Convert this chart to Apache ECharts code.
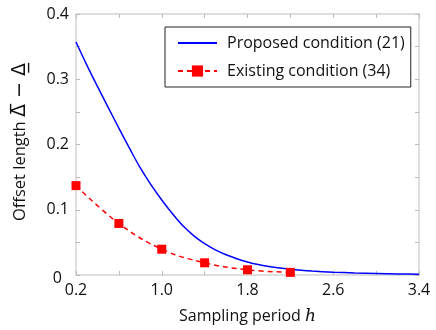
<!DOCTYPE html>
<html>
<head>
<meta charset="utf-8">
<script src="https://cdn.jsdelivr.net/npm/echarts@6/dist/echarts.min.js"></script>
<style>
  html, body { margin: 0; padding: 0; background: #fff; }
  #chart { width: 436px; height: 330px; }
</style>
</head>
<body>
<div id="chart"></div>
<script>
// sampling period h and offset length values
const proposedH = [0.2, 0.3, 0.4, 0.5, 0.6, 0.7, 0.8, 0.9, 1.0, 1.1, 1.2, 1.3, 1.4, 1.5, 1.6, 1.7, 1.8, 1.9, 2.0, 2.1, 2.2, 2.3, 2.4, 2.6, 2.8, 3.0, 3.2, 3.4]
const proposedVal = [0.357, 0.322, 0.289, 0.257, 0.225, 0.194, 0.164, 0.138, 0.115, 0.094, 0.075, 0.060, 0.048, 0.0385, 0.031, 0.025, 0.020, 0.016, 0.013, 0.0106, 0.0087, 0.0072, 0.006, 0.0043, 0.0032, 0.0024, 0.0017, 0.0012]
const existingH = [0.2, 0.6, 1.0, 1.4, 1.8, 2.2]
const existingVal = [0.137, 0.079, 0.0395, 0.0187, 0.008, 0.004]
const xLabels = [0.2, 1.0, 1.8, 2.6, 3.4]
const xTicks = [0.2, 0.6, 1.0, 1.4, 1.8, 2.2, 2.6, 3.0, 3.4]

const font = 'Open Sans'
const axisGrey = '#d4d4d4'

const chart = echarts.init(document.getElementById('chart'))

const boxAxis = (extra) => Object.assign({
  type: 'value',
  axisLine: { show: true, onZero: false, lineStyle: { color: axisGrey, width: 1.5 } },
  axisTick: { show: true, inside: true, length: 4, lineStyle: { color: '#bbb' } },
  axisLabel: { show: false },
  splitLine: { show: false }
}, extra)

chart.setOption({
  animation: false,
  textStyle: { fontFamily: font },
  grid: { left: 76, right: 17, top: 14, bottom: 53 },
  legend: {
    orient: 'vertical',
    left: 165,
    top: 27,
    padding: [8, 6, 8, 12],
    itemGap: 12,
    itemWidth: 39,
    itemHeight: 14,
    borderColor: '#222',
    borderWidth: 1,
    backgroundColor: '#fff',
    textStyle: { fontFamily: font, fontSize: 16, color: '#111', padding: [0, 0, 0, 5] },
    data: [
      { name: 'Proposed condition (21)', itemStyle: { opacity: 0 } },
      { name: 'Existing condition (34)' }
    ]
  },
  xAxis: [
    boxAxis({
      min: 0.2, max: 3.4,
      position: 'bottom',
      axisTick: { show: true, inside: true, length: 4, customValues: xTicks, lineStyle: { color: '#bbb' } },
      axisLabel: {
        show: true, customValues: xLabels, margin: 7,
        fontFamily: font, fontSize: 16, color: '#111',
        formatter: v => v.toFixed(1)
      },
      name: 'Sampling period {h|h}',
      nameLocation: 'middle',
      nameGap: 33,
      nameTextStyle: {
        fontFamily: font, fontSize: 16, color: '#111',
        rich: { h: { fontFamily: 'DejaVu Serif', fontStyle: 'italic', fontSize: 17, color: '#111' } }
      }
    }),
    boxAxis({
      min: 0.2, max: 3.4,
      position: 'top',
      axisTick: { show: true, inside: true, length: 4, customValues: xTicks, lineStyle: { color: '#bbb' } }
    })
  ],
  yAxis: [
    boxAxis({
      min: 0, max: 0.4, interval: 0.05,
      position: 'left',
      axisLabel: {
        show: true, margin: 7,
        fontFamily: font, fontSize: 16, color: '#111',
        formatter: v => {
          const r = Math.round(v * 100) / 100
          if (r === 0) return '{z|0}'
          return Math.abs(r * 10 - Math.round(r * 10)) < 1e-6 ? r.toFixed(1) : ''
        },
        rich: { z: { fontFamily: font, fontSize: 16, color: '#111', padding: [6, 7, 0, 0] } }
      }
    }),
    boxAxis({ min: 0, max: 0.4, interval: 0.05, position: 'right' })
  ],
  graphic: [{
    type: 'text',
    x: 20,
    y: 142,
    rotation: Math.PI / 2,
    style: {
      text: 'Offset length {d|\u0394\u0305 \u2212 \u0394\u0332}',
      fontFamily: font,
      fontSize: 16.5,
      fill: '#111',
      align: 'center',
      verticalAlign: 'middle',
      rich: { d: { fontFamily: 'DejaVu Sans', fontSize: 19, fill: '#111' } }
    }
  }],
  series: [
    {
      name: 'Proposed condition (21)',
      type: 'line',
      data: proposedH.map((h, i) => [h, proposedVal[i]]),
      smooth: 0.3,
      symbol: 'none',
      lineStyle: { color: '#0000ff', width: 1.5 },
      itemStyle: { color: '#0000ff' },
      z: 3
    },
    {
      name: 'Existing condition (34)',
      type: 'line',
      data: existingH.map((h, i) => [h, existingVal[i]]),
      smooth: 0.4,
      symbol: 'rect',
      symbolSize: 9,
      lineStyle: { color: '#ff0000', width: 1.5, type: [5, 4] },
      itemStyle: { color: '#ff0000' },
      z: 4
    }
  ]
})
</script>
</body>
</html>
